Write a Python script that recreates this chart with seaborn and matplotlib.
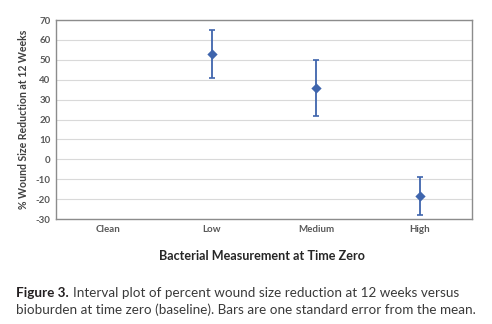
import numpy as np
import matplotlib
matplotlib.use("Agg")
import matplotlib.pyplot as plt
import seaborn as sns
import pandas as pd

# Bioburden categories and percent wound size reduction at 12 weeks (mean ± 1 SE)
categories = ["Clean", "Low", "Medium", "High"]
means = [np.nan, 53.0, 36.0, -18.5]
std_errors = [np.nan, 12.0, 14.0, 9.5]
y_ticks = list(range(-30, 80, 10))

df = pd.DataFrame({"bioburden": categories, "reduction": means})

sns.set_theme(style="white")
plt.rcParams["font.family"] = ["Lato", "DejaVu Sans"]

fig = plt.figure(figsize=(4.92, 3.24), dpi=100)
ax = fig.add_axes([0.114, 0.324, 0.845, 0.614])

blue = "#3F65AD"
x_pos = np.arange(len(categories))
ax.errorbar(x_pos, means, yerr=std_errors, fmt="none", ecolor=blue,
            elinewidth=1.3, capsize=2.2, capthick=1.2, zorder=3)
sns.pointplot(data=df, x="bioburden", y="reduction", order=categories,
              color=blue, markers="D", linestyle="none", errorbar=None,
              markersize=3.2, ax=ax, zorder=4)

ax.set_xlim(-0.5, len(categories) - 0.5)
ax.set_ylim(-30, 70)
ax.set_yticks(y_ticks)
ax.set_yticklabels([str(t) for t in y_ticks], fontsize=7,
                   fontweight="bold", color="#595959")
ax.set_xticks(x_pos)
ax.set_xticklabels(categories, fontsize=7, fontweight="bold", color="#595959")
ax.tick_params(axis="both", length=0, pad=4)
ax.yaxis.grid(True, color="#d9d9d9", linewidth=0.8)
ax.set_axisbelow(True)
for side in ax.spines.values():
    side.set_color("#8c8c8c")
    side.set_linewidth(1.0)

ax.set_xlabel("")
ax.set_ylabel("% Wound Size Reduction at 12 Weeks", fontsize=7.6,
              fontweight="bold", color="#404040", labelpad=5)
fig.text(0.532, 0.21, "Bacterial Measurement at Time Zero", ha="center",
         va="center", fontsize=9.1, fontweight="bold", color="#262626")

# Figure caption: bold lead-in followed by regular text
cap_size = 9.7
lead = fig.text(0.033, 0.095, "Figure 3.", fontsize=cap_size, fontweight="bold",
                color="#231f20", va="center", ha="left")
fig.canvas.draw()
x_after = lead.get_window_extent().x1 / fig.bbox.width
fig.text(x_after + 0.008, 0.095,
         "Interval plot of percent wound size reduction at 12 weeks versus",
         fontsize=cap_size, color="#3a3a3a", va="center", ha="left")
fig.text(0.033, 0.043,
         "bioburden at time zero (baseline). Bars are one standard error from the mean.",
         fontsize=cap_size, color="#3a3a3a", va="center", ha="left")

fig.savefig("out.png", dpi=100)
